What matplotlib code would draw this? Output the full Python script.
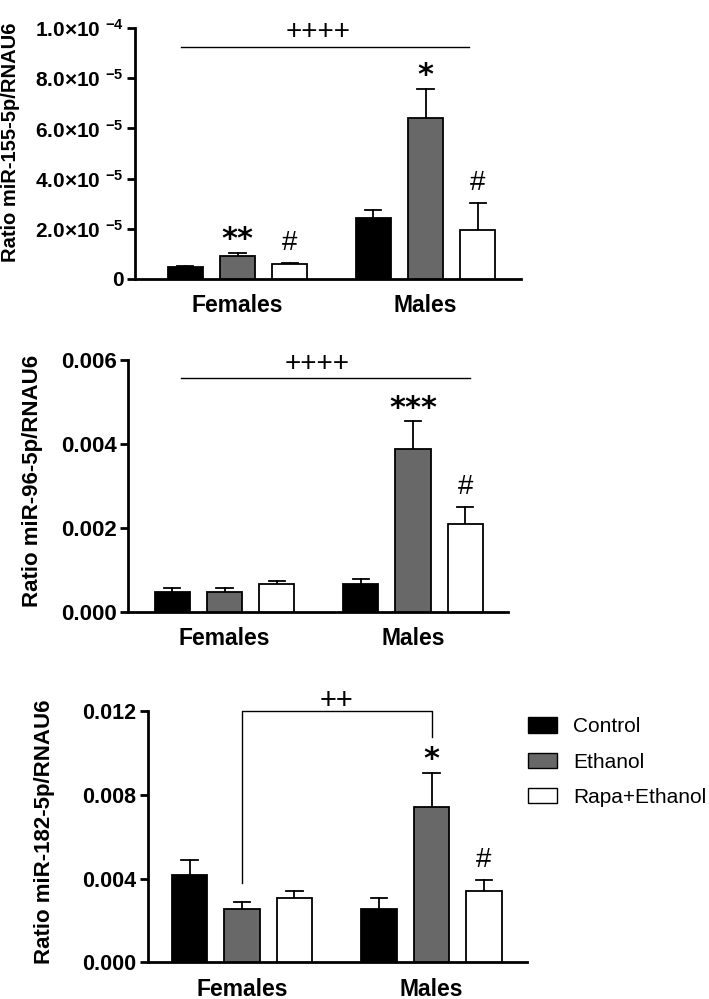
import matplotlib
matplotlib.use("Agg")
import matplotlib.pyplot as plt
from matplotlib.patches import Patch

plt.rcParams["font.family"] = ["Liberation Sans", "DejaVu Sans"]
plt.rcParams["mathtext.fontset"] = "custom"
plt.rcParams["mathtext.bf"] = "Liberation Sans:bold"
plt.rcParams["mathtext.rm"] = "Liberation Sans:bold"
plt.rcParams["mathtext.default"] = "bf"

groups = ["Females", "Males"]
treatments = ["Control", "Ethanol", "Rapa+Ethanol"]
colors = ["black", "#686868", "white"]

mir155 = [[4.7e-6, 9.3e-6, 6.0e-6], [2.42e-5, 6.43e-5, 1.95e-5]]
mir155_err = [[0.6e-6, 1.1e-6, 0.5e-6], [3.3e-6, 1.14e-5, 1.09e-5]]
mir155_stars = [["", "**", "#"], ["", "*", "#"]]

mir96 = [[0.00046, 0.00047, 0.00065], [0.00065, 0.00387, 0.00209]]
mir96_err = [[0.0001, 0.00009, 0.00009], [0.00012, 0.00067, 0.00041]]
mir96_stars = [["", "", ""], ["", "***", "#"]]

mir182 = [[0.00417, 0.00256, 0.00307], [0.00256, 0.0074, 0.00339]]
mir182_err = [[0.00073, 0.00032, 0.00033], [0.00049, 0.00165, 0.00056]]
mir182_stars = [["", "", ""], ["", "*", "#"]]

W, H = 709, 999
fig = plt.figure(figsize=(W / 100, H / 100), dpi=100)

offset = 0.277
width = 0.186


def make_axes(x0, x1, y_top, y_zero, ethF, ethM):
    ax = fig.add_axes([x0 / W, 1 - y_zero / H, (x1 - x0) / W, (y_zero - y_top) / H])
    unit = ethM - ethF
    ax.set_xlim((x0 - ethF) / unit, (x1 - ethF) / unit)
    return ax


def draw_panel(ax, vals, errs, stars, ymax, ticks, ticklabels, ylabel, tick_fs):
    for g in range(2):
        for t in range(3):
            x = g + (t - 1) * offset
            ax.bar(x, vals[g][t], width=width, color=colors[t], edgecolor="black",
                   linewidth=1.3, zorder=3)
            top = vals[g][t] + errs[g][t]
            ax.plot([x, x], [vals[g][t], top], color="black", lw=1.3, zorder=2)
            ax.plot([x - width * 0.23, x + width * 0.23], [top, top], color="black", lw=1.3, zorder=2)
            s = stars[g][t]
            if s:
                if "*" in s:
                    ax.annotate(s, (x, top), xytext=(0, 13), textcoords="offset pixels",
                                ha="center", va="center", fontsize=22, fontweight="bold",
                                family=["DejaVu Sans"])
                else:
                    ax.annotate(s, (x, top), xytext=(0, 20), textcoords="offset pixels",
                                ha="center", va="center", fontsize=20)
    ax.set_ylim(0, ymax)
    ax.set_yticks(ticks)
    ax.set_yticklabels(ticklabels)
    ax.set_xticks([0, 1])
    ax.set_xticklabels(groups)
    for sp in ["top", "right"]:
        ax.spines[sp].set_visible(False)
    for sp in ["left", "bottom"]:
        ax.spines[sp].set_linewidth(2)
    ax.tick_params(axis="y", direction="out", length=6, width=2, labelsize=tick_fs, pad=2)
    ax.tick_params(axis="x", length=0, labelsize=16.5, pad=11)
    for lab in ax.get_xticklabels() + ax.get_yticklabels():
        lab.set_fontweight("bold")
    ax.set_ylabel(ylabel, fontsize=16, fontweight="bold")


# panel 1
ax1 = make_axes(135, 521, 28, 279, 237.5, 425.5)
labels1 = ["0"] + [r"%.1f×10 $^{-%d}$" % (v, e) for v, e in [(2.0, 5), (4.0, 5), (6.0, 5), (8.0, 5), (1.0, 4)]]
draw_panel(ax1, mir155, mir155_err, mir155_stars, 1e-4,
           [0, 2e-5, 4e-5, 6e-5, 8e-5, 1e-4], labels1,
           "Ratio miR-155-5p/RNAU6", 15)
ax1.yaxis.set_label_coords((20 - 135) / 386, (279 - 142) / 251)
ax1.yaxis.label.set_fontsize(14.5)
ax1.plot([-0.3, 1.23], [9.25e-5, 9.25e-5], color="black", lw=1, clip_on=False)
ax1.text(0.43, 9.85e-5, "++++", ha="center", va="center", fontsize=20, clip_on=False)

# panel 2
ax2 = make_axes(128, 508, 360, 611.7, 224.5, 413)
draw_panel(ax2, mir96, mir96_err, mir96_stars, 0.006,
           [0, 0.002, 0.004, 0.006], ["0.000", "0.002", "0.004", "0.006"],
           "Ratio miR-96-5p/RNAU6", 16)
ax2.yaxis.set_label_coords((43 - 128) / 380, (611.7 - 481) / 251.7)
ax2.plot([-0.23, 1.3], [0.00556, 0.00556], color="black", lw=1, clip_on=False)
ax2.text(0.49, 0.0059, "++++", ha="center", va="center", fontsize=20, clip_on=False)

# panel 3
ax3 = make_axes(147.7, 527, 711, 962.3, 242, 431.5)
draw_panel(ax3, mir182, mir182_err, mir182_stars, 0.012,
           [0, 0.004, 0.008, 0.012], ["0.000", "0.004", "0.008", "0.012"],
           "Ratio miR-182-5p/RNAU6", 15.5)
ax3.yaxis.set_label_coords((55 - 147.7) / 379.3, (962.3 - 832) / 251.3)
ax3.plot([0, 0, 1, 1], [0.0038, 0.012, 0.012, 0.01075], color="black", lw=1, clip_on=False)
ax3.text(0.5, 0.0125, "++", ha="center", va="center", fontsize=21, clip_on=False)

handles = [Patch(facecolor=c, edgecolor="black", linewidth=1) for c in colors]
ax3.legend(handles, treatments, loc="upper left", bbox_to_anchor=((528 - 147.7) / 379.3, 0.975),
           frameon=False, fontsize=15, handlelength=1.4, handleheight=0.75,
           handletextpad=0.75, labelspacing=0.78, borderpad=0, borderaxespad=0)

fig.savefig("out.png", dpi=100)
